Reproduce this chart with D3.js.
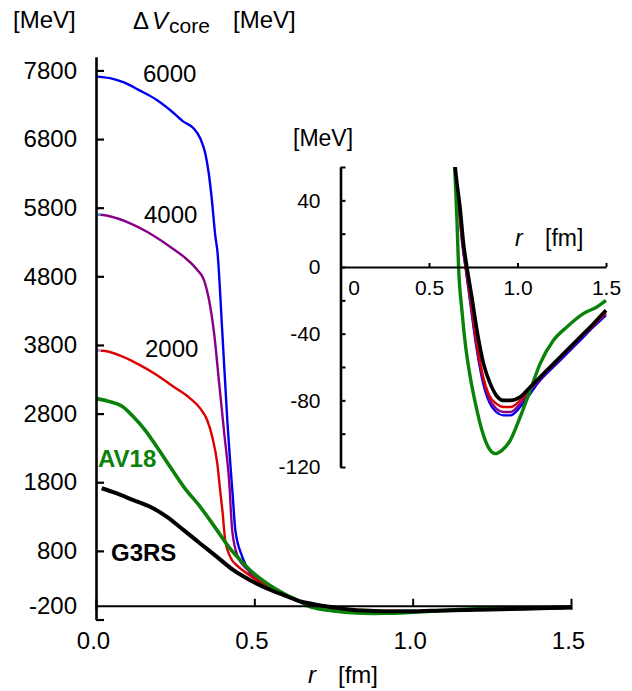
<!DOCTYPE html>
<html><head><meta charset="utf-8">
<script src="https://cdn.jsdelivr.net/npm/d3@7"></script>
<style>
body{margin:0;background:#fff}
svg{display:block}
text{font-family:"Liberation Sans",Arial,Helvetica,sans-serif;fill:#000}
</style>
</head><body>
<svg id="chart" width="632" height="691"></svg>
<script>
// ---------------- data ----------------
const mainYTicks = [7800, 6800, 5800, 4800, 3800, 2800, 1800, 800, -200];
const mainXTicks = [0, 0.5, 1.0, 1.5];
const insetYTicks = [-120, -100, -80, -60, -40, -20, 0, 20, 40, 60];
const insetYLabels = [40, 0, -40, -80, -120];
const insetXTicks = [0, 0.5, 1.0, 1.5];

const seriesNames = ["6000", "4000", "2000", "AV18", "G3RS"];

// [r (fm), V (MeV)]
const core6000 = [[0,7710],[0.044,7687],[0.086,7628],[0.139,7506],[0.192,7370],[0.234,7224],[0.276,7054],[0.308,6958],[0.329,6812],[0.345,6593],[0.356,6302],[0.366,5912],[0.377,5378],[0.383,5184],[0.399,3974],[0.414,2754],[0.432,1587],[0.44,1102],[0.462,713],[0.487,475],[0.509,373],[0.54,290],[0.593,165],[0.645,60],[0.67,34],[0.688,14],[0.706,0],[0.734,-22],[0.762,-44],[0.80,-67],[0.84,-81],[0.88,-87],[0.92,-89],[0.96,-89],[1.015,-84],[1.072,-76],[1.128,-68],[1.203,-60],[1.279,-52],[1.354,-44],[1.429,-36],[1.5,-29]];
const core4000 = [[0,5698],[0.013,5698],[0.066,5646],[0.108,5573],[0.161,5450],[0.203,5329],[0.245,5194],[0.277,5086],[0.32,4892],[0.341,4746],[0.357,4455],[0.373,3969],[0.389,3240],[0.405,2512],[0.421,1783],[0.43,1102],[0.448,713],[0.48,519],[0.511,373],[0.54,288],[0.593,163],[0.645,60],[0.671,34],[0.689,14],[0.707,0],[0.735,-21],[0.763,-43],[0.80,-65],[0.84,-79],[0.88,-85],[0.92,-87],[0.96,-87],[1.015,-82],[1.072,-74],[1.128,-67],[1.203,-59],[1.279,-51],[1.354,-43],[1.429,-35],[1.5,-28]];
const core2000 = [[0,3716],[0.018,3716],[0.086,3628],[0.139,3507],[0.192,3362],[0.245,3191],[0.297,3022],[0.329,2876],[0.351,2706],[0.367,2462],[0.383,2074],[0.392,1685],[0.40,1350],[0.408,956],[0.424,713],[0.45,567],[0.477,471],[0.498,402],[0.54,290],[0.593,162],[0.646,60],[0.672,34],[0.69,14],[0.708,0],[0.736,-20],[0.765,-42],[0.80,-63],[0.84,-77],[0.88,-82],[0.92,-84],[0.96,-84],[1.015,-80],[1.072,-73],[1.128,-66],[1.203,-58],[1.279,-50],[1.354,-42],[1.429,-35],[1.5,-27]];
const av18 = [[0,3022],[0.044,2973],[0.081,2910],[0.118,2754],[0.155,2560],[0.192,2316],[0.234,2025],[0.277,1733],[0.329,1442],[0.382,1102],[0.419,859],[0.456,665],[0.498,471],[0.54,325],[0.593,179],[0.645,60],[0.658,28],[0.667,0],[0.686,-26],[0.705,-46],[0.733,-66],[0.771,-86],[0.799,-98],[0.846,-110],[0.874,-112],[0.912,-110],[0.959,-104],[1.015,-90],[1.072,-74],[1.128,-58],[1.203,-44],[1.279,-36],[1.372,-28],[1.448,-24],[1.5,-20]];
const g3rs = [[0.018,1712],[0.066,1637],[0.118,1539],[0.171,1442],[0.224,1296],[0.277,1102],[0.329,908],[0.382,713],[0.434,519],[0.487,373],[0.54,252],[0.593,155],[0.649,59],[0.677,34],[0.695,14],[0.714,0],[0.742,-18],[0.771,-38],[0.808,-58],[0.846,-70],[0.88,-77],[0.92,-80],[0.96,-80],[1.015,-78],[1.072,-72],[1.128,-66],[1.203,-58],[1.279,-50],[1.354,-42],[1.429,-34],[1.5,-26]];

// short coloured stubs at the start of two curves
const stub4000 = [[0,5700],[0.014,5700]];
const stub2000 = [[0,3716],[0.016,3716]];

const seriesData = [core6000, core4000, core2000, av18, g3rs];

// ---------------- styles ----------------
const seriesColors = ["#0000ee", "#880088", "#dd0000", "#0a820a", "#000000"];
const mainWidths = [2.4, 2.4, 2.4, 3.6, 4];
const insetWidths = [2.4, 2.4, 2.4, 3.4, 3.6];
const FONT = 24;

const svg = d3.select("#chart");

// ---------------- main plot ----------------
const x = d3.scaleLinear().domain([0, 1.5]).range([96, 571]);
const y = d3.scaleLinear().domain([-200, 8000]).range([619.5, 56.7]);

const line = d3.line().x(d => x(d[0])).y(d => y(d[1])).curve(d3.curveMonotoneX);

const gMain = svg.append("g");
seriesData.forEach((s, i) => {
  gMain.append("path").datum(s).attr("d", line)
    .attr("fill", "none").attr("stroke", seriesColors[i])
    .attr("stroke-width", mainWidths[i]).attr("stroke-linejoin", "round");
});
gMain.append("path").datum(stub4000).attr("d", line).attr("fill","none").attr("stroke","#30c8f0").attr("stroke-width",2.4);
gMain.append("path").datum(stub2000).attr("d", line).attr("fill","none").attr("stroke","#a8a8f0").attr("stroke-width",2.4);

// y axis
const yAxis = d3.axisLeft(y).tickValues(mainYTicks).tickSizeInner(-8).tickSizeOuter(0)
  .tickPadding(19).tickFormat(d => String(d));
const gy = svg.append("g").attr("transform", `translate(${x(0)},0)`).call(yAxis);
gy.select(".domain").attr("stroke-width", 2.6);
gy.selectAll(".tick line").attr("stroke-width", 2.2);
gy.selectAll(".tick text").attr("font-size", FONT).attr("font-family", null);
gy.selectAll(".tick text").filter(d => d === -200).attr("y", y(0) - y(-200));

// x axis
const xAxis = d3.axisBottom(x).tickValues(mainXTicks).tickSizeInner(-7).tickSizeOuter(4)
  .tickPadding(26).tickFormat(d3.format(".1f"));
const gx = svg.append("g").attr("transform", `translate(0,${y(0)})`).call(xAxis);
gx.select(".domain").attr("stroke-width", 2.2);
gx.selectAll(".tick line").attr("stroke-width", 2);
gx.selectAll(".tick text").attr("font-size", FONT).attr("font-family", null).attr("x", -3);

// axis titles
svg.append("text").attr("x", 13).attr("y", 28).attr("font-size", FONT).text("[MeV]");
const t = svg.append("text").attr("x", 133).attr("y", 29).attr("font-size", FONT);
t.append("tspan").text("Δ");
t.append("tspan").attr("font-style", "italic").attr("dx", 3).text("V");
t.append("tspan").attr("font-size", 21).attr("dy", 4).attr("dx", 1).text("core");
svg.append("text").attr("x", 233).attr("y", 28).attr("font-size", FONT).text("[MeV]");

const xt = svg.append("text").attr("x", 308).attr("y", 683).attr("font-size", FONT);
xt.append("tspan").attr("font-style", "italic").text("r");
xt.append("tspan").attr("x", 338).text("[fm]");

// curve labels
const labelPos = [[143, 82, false], [144, 223, false], [145, 357, false], [98, 467, true], [111, 561, true]];
seriesNames.forEach((n, i) => {
  const p = labelPos[i];
  svg.append("text").attr("x", p[0]).attr("y", p[1]).attr("font-size", FONT)
    .attr("font-weight", p[2] ? "bold" : null)
    .style("fill", i >= 3 ? seriesColors[i] : "#000").text(n);
});

// ---------------- inset ----------------
const xi = d3.scaleLinear().domain([0, 1.5]).range([340.5, 606]);
const yi = d3.scaleLinear().domain([-120, 60]).range([467, 167]);
const lineI = d3.line().x(d => xi(d[0])).y(d => yi(d[1])).curve(d3.curveMonotoneX);

svg.append("clipPath").attr("id", "insetClip").append("rect")
  .attr("x", 340).attr("y", yi(60)).attr("width", 270).attr("height", yi(-120) - yi(60) + 4);

const gIn = svg.append("g").attr("clip-path", "url(#insetClip)");
seriesData.forEach((s, i) => {
  gIn.append("path").datum(s).attr("d", lineI)
    .attr("fill", "none").attr("stroke", seriesColors[i])
    .attr("stroke-width", insetWidths[i]).attr("stroke-linejoin", "round");
});

const yiAxis = d3.axisLeft(yi).tickValues(insetYTicks).tickSizeInner(-5).tickSizeOuter(0)
  .tickPadding(20).tickFormat(d => insetYLabels.includes(d) ? String(d) : "");
const giy = svg.append("g").attr("transform", `translate(${xi(0)},0)`).call(yiAxis);
giy.select(".domain").attr("stroke-width", 2.6);
giy.selectAll(".tick line").attr("stroke-width", 2);
giy.selectAll(".tick text").attr("font-size", 21).attr("font-family", null);

const xiAxis = d3.axisBottom(xi).tickValues(insetXTicks).tickSizeInner(-4).tickSizeOuter(0)
  .tickPadding(13).tickFormat(d => d === 0 ? "0" : d3.format(".1f")(d));
const gix = svg.append("g").attr("transform", `translate(0,${yi(0)})`).call(xiAxis);
gix.select(".domain").attr("stroke-width", 2);
gix.selectAll(".tick line").attr("stroke-width", 2);
gix.selectAll(".tick text").attr("font-size", 21).attr("font-family", null);
gix.selectAll(".tick text").filter(d => d === 0).attr("x", 13);

svg.append("text").attr("x", 293).attr("y", 146).attr("font-size", 23).text("[MeV]");
const xti = svg.append("text").attr("x", 515).attr("y", 246).attr("font-size", 23);
xti.append("tspan").attr("font-style", "italic").text("r");
xti.append("tspan").attr("x", 545).text("[fm]");
</script>
</body></html>
